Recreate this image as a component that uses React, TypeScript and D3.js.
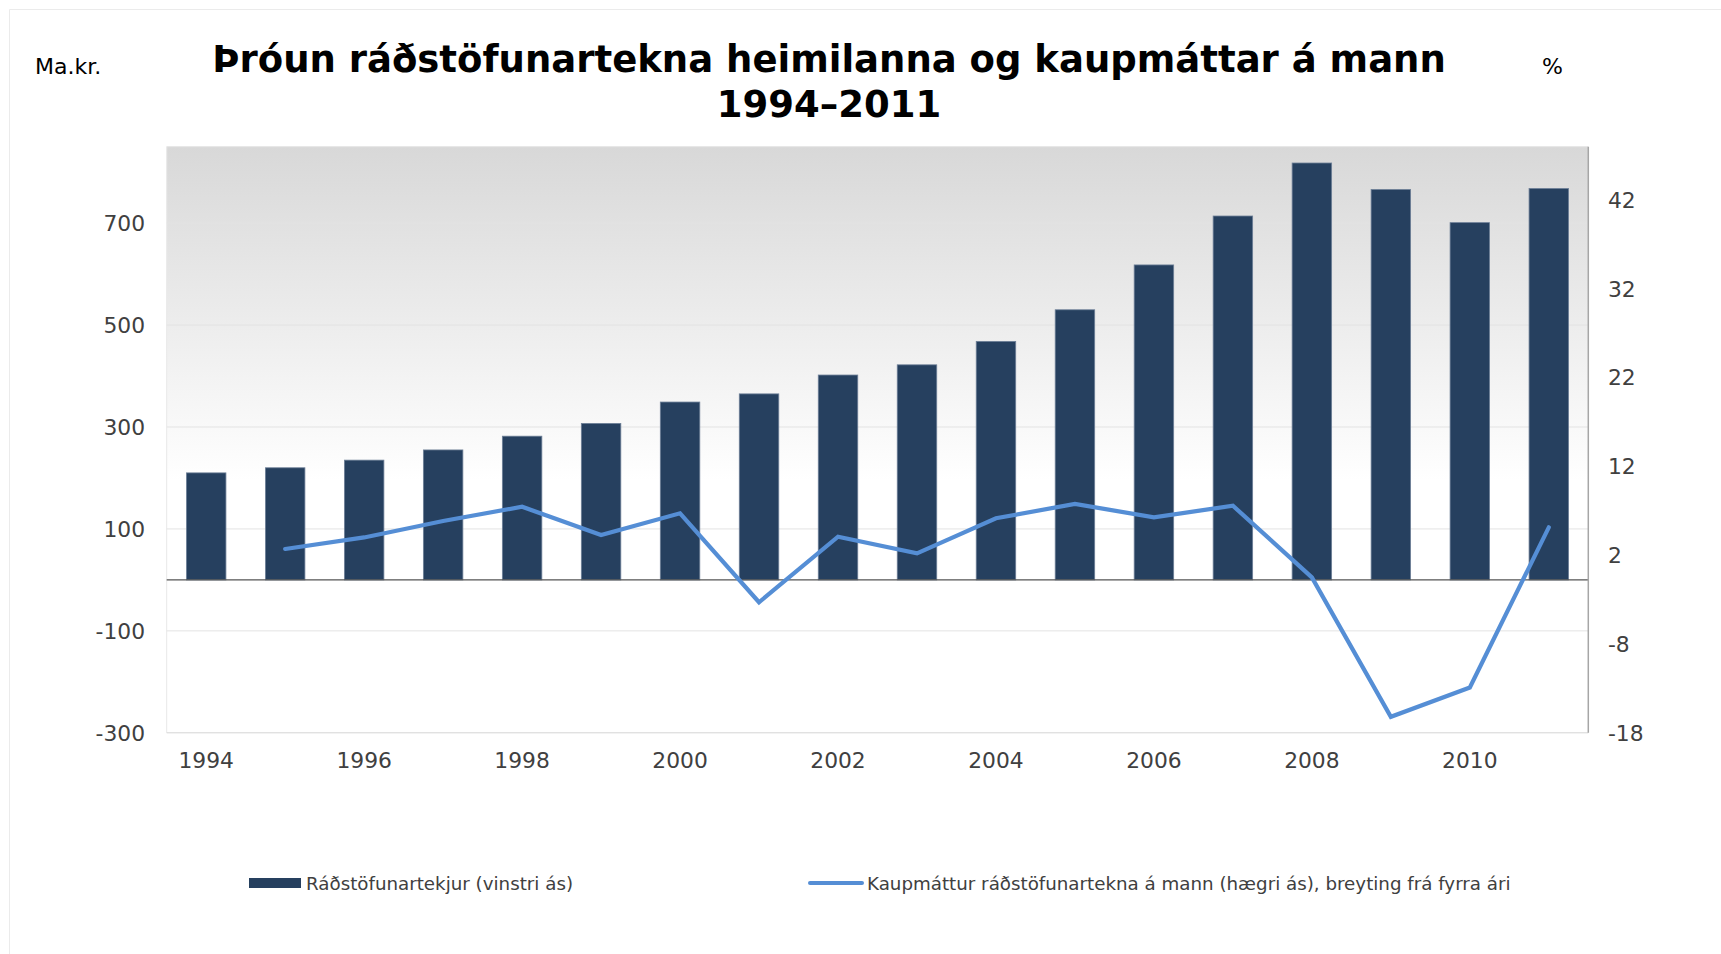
import React from "react";
import * as d3 from "d3";

const years: number[] = [1994, 1995, 1996, 1997, 1998, 1999, 2000, 2001, 2002, 2003, 2004, 2005, 2006, 2007, 2008, 2009, 2010, 2011];
const income: number[] = [210, 220, 235, 255, 282, 307, 349, 365, 402, 422, 468, 530, 618, 714, 818, 766, 701, 768];
const purchasing: (number | null)[] = [null, 2.7, 4.0, 5.85, 7.46, 4.27, 6.72, -3.3, 4.08, 2.2, 6.16, 7.77, 6.27, 7.57, -0.5, -16.2, -12.9, 5.14];
const leftTicks: number[] = [-300, -100, 100, 300, 500, 700];
const rightTicks: number[] = [-18, -8, 2, 12, 22, 32, 42];
const xTickYears: number[] = [1994, 1996, 1998, 2000, 2002, 2004, 2006, 2008, 2010];

const titleLine1 = "Þróun ráðstöfunartekna heimilanna og kaupmáttar á mann";
const titleLine2 = "1994–2011";
const leftUnit = "Ma.kr.";
const rightUnit = "%";
const legendBar = "Ráðstöfunartekjur (vinstri ás)";
const legendLine = "Kaupmáttur ráðstöfunartekna á mann (hægri ás), breyting frá fyrra ári";

const W = 1721;
const H = 954;
const plot = { left: 166.7, right: 1588.3, top: 146.7, bottom: 732.8 };
const FONT = "'DejaVu Sans', Verdana, sans-serif";
const BAR = "#26405f";
const LINE = "#558ed5";
const TICK = "#404040";
const TICK_SIZE = 21.8;

export default function App() {
  const x = d3.scaleBand<number>().domain(years).range([plot.left, plot.right]).paddingInner(0.5).paddingOuter(0.25);
  const yL = d3.scaleLinear().domain([-300, 850]).range([plot.bottom, plot.top]);
  const yR = d3.scaleLinear().domain([-18, 48]).range([plot.bottom, plot.top]);
  const cx = (yr: number) => (x(yr) as number) + x.bandwidth() / 2;

  const lineGen = d3
    .line<number | null>()
    .defined((d) => d !== null)
    .x((_, i) => cx(years[i]))
    .y((d) => yR(d as number));
  const linePath = lineGen(purchasing) || "";

  return (
    <svg width={W} height={H} style={{ position: "absolute", left: 0, top: 0, display: "block", background: "#fff" }}>
      <defs>
        <linearGradient id="bg" x1="0" y1="0" x2="0" y2="1">
          <stop offset="0" stopColor="#d8d8d8" />
          <stop offset="0.57" stopColor="#ffffff" />
          <stop offset="1" stopColor="#ffffff" />
        </linearGradient>
      </defs>
      {/* outer frame */}
      <line x1={9.5} x2={W} y1={9.5} y2={9.5} stroke="#ebebeb" strokeWidth={1} />
      <line x1={9.5} x2={9.5} y1={9.5} y2={H} stroke="#ebebeb" strokeWidth={1} />

      {/* titles */}
      <text x={829} y={72} textAnchor="middle" fontFamily={FONT} fontWeight="bold" fontSize={37} fill="#000">
        {titleLine1}
      </text>
      <text x={829} y={117} textAnchor="middle" fontFamily={FONT} fontWeight="bold" fontSize={37} fill="#000">
        {titleLine2}
      </text>
      <text x={35} y={74} fontFamily={FONT} fontSize={22} fill="#000">
        {leftUnit}
      </text>
      <text x={1542} y={74} fontFamily={FONT} fontSize={22} fill="#000">
        {rightUnit}
      </text>

      {/* plot background */}
      <rect x={plot.left} y={plot.top} width={plot.right - plot.left} height={plot.bottom - plot.top} fill="url(#bg)" />
      <line x1={plot.left} x2={plot.right} y1={plot.top} y2={plot.top} stroke="#e4e4e4" />
      <line x1={plot.left} x2={plot.left} y1={plot.top} y2={plot.bottom} stroke="#e8e8e8" />
      <line x1={plot.left} x2={plot.right} y1={plot.bottom} y2={plot.bottom} stroke="#d4d4d4" />

      {/* gridlines */}
      {leftTicks
        .filter((v) => v !== -300)
        .map((v) => (
          <line key={"g" + v} x1={plot.left} x2={plot.right} y1={yL(v)} y2={yL(v)} stroke="#e3e3e3" strokeWidth={1} />
        ))}

      {/* bars */}
      {years.map((yr, i) => (
        <rect
          key={"b" + yr}
          x={x(yr)}
          y={yL(income[i])}
          width={x.bandwidth()}
          height={yL(0) - yL(income[i])}
          fill={BAR}
          stroke="#6d7f97"
          strokeWidth={0.8}
        />
      ))}

      {/* zero line */}
      <line x1={plot.left} x2={plot.right} y1={yL(0)} y2={yL(0)} stroke="#555" strokeWidth={1.2} />

      {/* right axis line */}
      <line x1={plot.right} x2={plot.right} y1={plot.top} y2={plot.bottom} stroke="#a6a6a6" strokeWidth={1.5} />

      {/* line series */}
      <path d={linePath} fill="none" stroke={LINE} strokeWidth={4.2} strokeLinecap="round" strokeLinejoin="miter" />

      {/* left ticks */}
      {leftTicks.map((v) => (
        <text key={"l" + v} x={145} y={yL(v)} dy="0.36em" textAnchor="end" fontFamily={FONT} fontSize={TICK_SIZE} fill={TICK}>
          {v}
        </text>
      ))}
      {/* right ticks */}
      {rightTicks.map((v) => (
        <text key={"r" + v} x={1608} y={yR(v)} dy="0.36em" textAnchor="start" fontFamily={FONT} fontSize={TICK_SIZE} fill={TICK}>
          {v}
        </text>
      ))}
      {/* x ticks */}
      {xTickYears.map((yr) => (
        <text key={"x" + yr} x={cx(yr)} y={768} textAnchor="middle" fontFamily={FONT} fontSize={TICK_SIZE} fill={TICK}>
          {yr}
        </text>
      ))}

      {/* legend */}
      <rect x={249} y={878} width={52} height={10} fill={BAR} />
      <text x={306} y={883} dy="0.36em" fontFamily={FONT} fontSize={18.25} fill={TICK}>
        {legendBar}
      </text>
      <line x1={810} x2={862} y1={883} y2={883} stroke={LINE} strokeWidth={4} strokeLinecap="round" />
      <text x={867} y={883} dy="0.36em" fontFamily={FONT} fontSize={18.25} fill={TICK}>
        {legendLine}
      </text>
    </svg>
  );
}
